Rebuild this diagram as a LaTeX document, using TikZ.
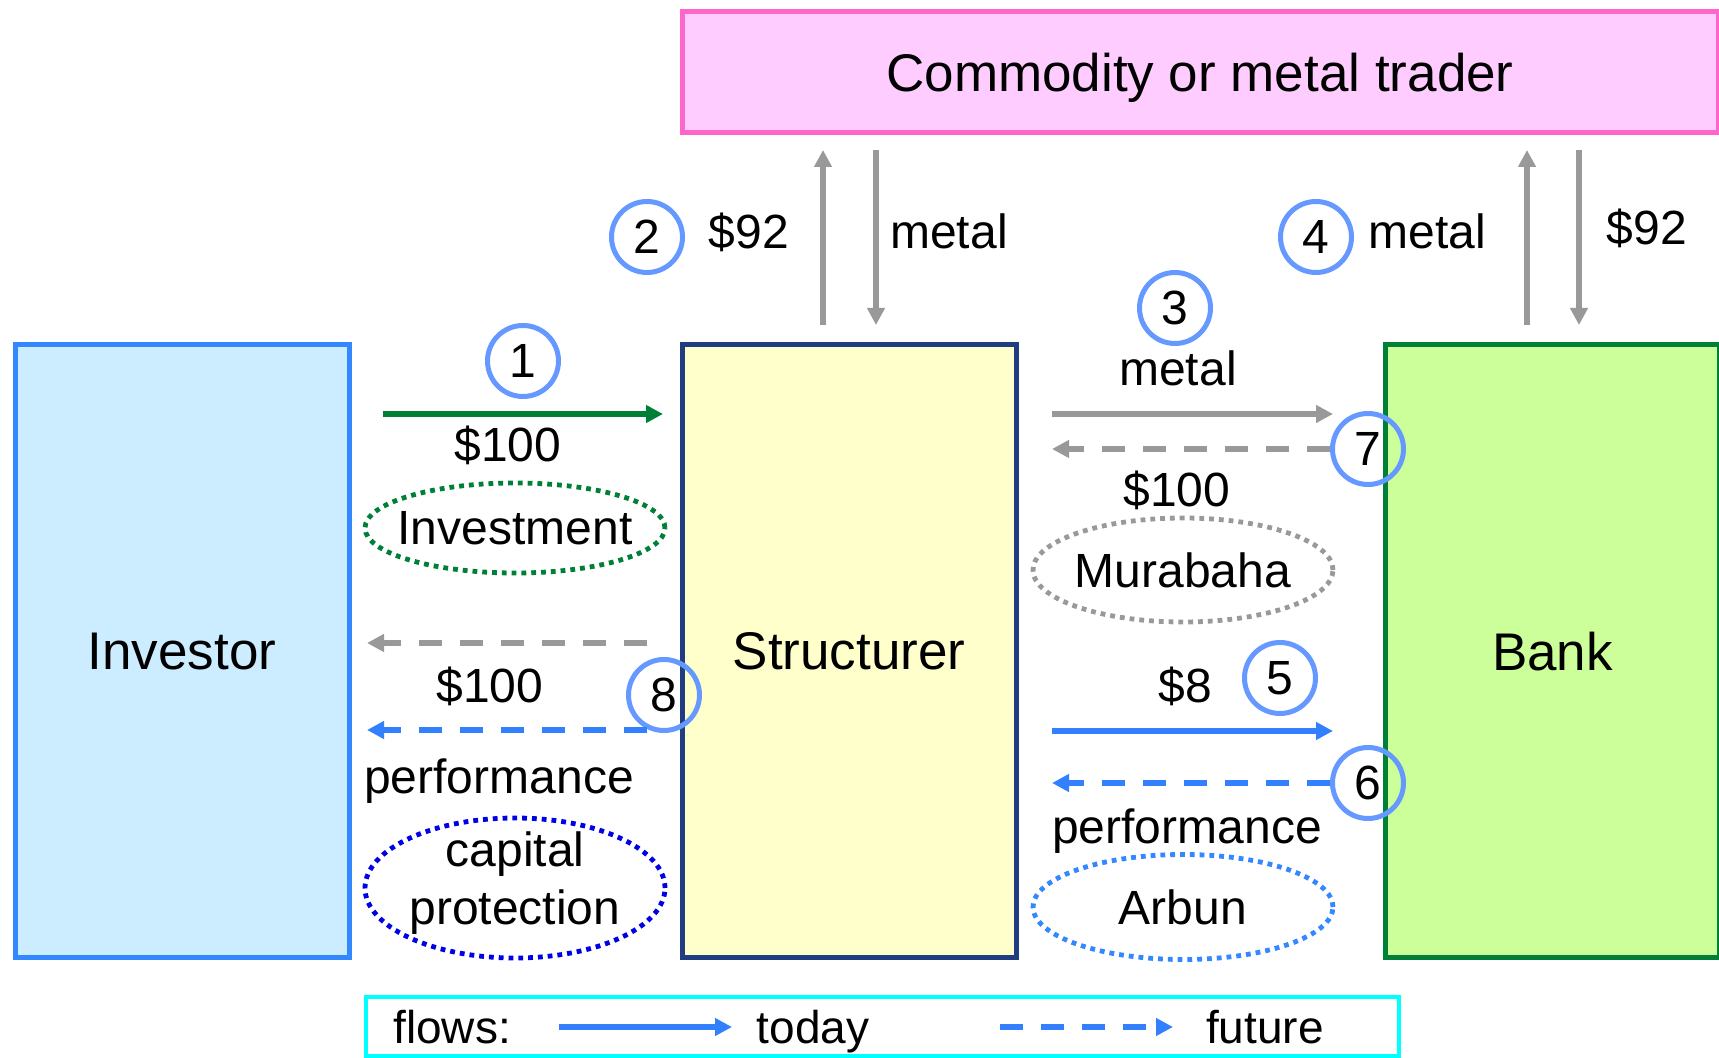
\documentclass[tikz,border=0pt]{standalone}
\usepackage{fontspec}
\setmainfont{Liberation Sans}
\usetikzlibrary{arrows.meta,shapes.geometric,positioning}

\definecolor{invfill}{RGB}{204,236,255}
\definecolor{invline}{RGB}{51,136,255}
\definecolor{strfill}{RGB}{255,255,204}
\definecolor{strline}{RGB}{31,61,128}
\definecolor{bankfill}{RGB}{204,255,153}
\definecolor{bankline}{RGB}{0,128,55}
\definecolor{tradefill}{RGB}{255,204,255}
\definecolor{tradeline}{RGB}{255,102,204}
\definecolor{stepline}{RGB}{102,153,255}
\definecolor{flowgray}{RGB}{153,153,153}
\definecolor{flowblue}{RGB}{51,128,255}
\definecolor{flowgreen}{RGB}{0,128,55}
\definecolor{capblue}{RGB}{0,0,230}
\definecolor{legline}{RGB}{0,255,255}

\begin{document}
\begin{tikzpicture}[x=0.5pt, y=-0.5pt,
                    party/.style={
                        draw,
                        line width=2.5pt,
                        minimum width=167pt,
                        minimum height=306.5pt,
                        text depth=0pt,
                        font=\fontsize{26.5}{30}\selectfont
                    },
                    stepno/.style={
                        circle,
                        draw=stepline,
                        line width=2.5pt,
                        minimum size=35.5pt,
                        inner sep=0pt,
                        font=\fontsize{24}{28}\selectfont
                    },
                    lbl/.style={
                        inner sep=0pt,
                        font=\fontsize{24}{28}\selectfont
                    },
                    dealtag/.style={
                        ellipse,
                        line width=2.4pt,
                        dash pattern=on 2.4pt off 2.5pt,
                        minimum width=150pt,
                        inner sep=0pt
                    },
                    flow/.style={
                        line width=3pt,
                        -{Triangle[length=8.5pt,width=8.5pt]}
                    },
                    later/.style={
                        flow,
                        dash pattern=on 11.5pt off 9pt
                    }
                ]

    \useasboundingbox (0,0) rectangle (1719,1058);

    % Parties
    \node[party, fill=invfill, draw=invline] (investor) at (182,651) {Investor};
    \node[party, fill=strfill, draw=strline] (structurer) at (849,651) {Structurer};
    \node[party, fill=bankfill, draw=bankline] (bank) at (1552.5,651) {Bank};
    \node[party, fill=tradefill, draw=tradeline,
        minimum width=518pt,
        minimum height=60.5pt
    ] (trader) at (1200,72) {Commodity or metal trader};

    % Free ends of the flows
    \coordinate (invA) at (383,414);
    \coordinate (invB) at (663,414);
    \coordinate (retA) at (647,643);
    \coordinate (retB) at (367,643);
    \coordinate (perA) at (647,730);
    \coordinate (perB) at (367,730);
    \coordinate (murA) at (1052,414);
    \coordinate (murB) at (1333,414);
    \coordinate (murC) at (1052,449);
    \coordinate (arbA) at (1052,731);
    \coordinate (arbB) at (1333,731);
    \coordinate (arbC) at (1052,783);
    \coordinate (buyA) at (823,325);
    \coordinate (buyB) at (823,150);
    \coordinate (getA) at (876,150);
    \coordinate (getB) at (876,325);
    \coordinate (sellA) at (1527,325);
    \coordinate (sellB) at (1527,150);
    \coordinate (payA) at (1579,150);
    \coordinate (payB) at (1579,325);

    % Trader legs
    \draw[flow, flowgray] (buyA) -- (buyB);
    \draw[flow, flowgray] (getA) -- (getB);
    \draw[flow, flowgray] (sellA) -- (sellB);
    \draw[flow, flowgray] (payA) -- (payB);
    \node[stepno] (s2) at (647,237) {2};
    \node[lbl, anchor=base] (p92a) at (749,249) {\$92};
    \node[lbl, anchor=base] (m2) at (949,249) {metal};
    \node[stepno] (s4) at (1316,237) {4};
    \node[lbl, anchor=base] (m4) at (1427,249) {metal};
    \node[lbl, anchor=base] (p92b) at (1647,245) {\$92};

    % Investor side
    \node[stepno] (s1) at (523,361) {1};
    \draw[flow, flowgreen] (invA) -- (invB);
    \node[lbl, anchor=base] (p100a) at (508,462) {\$100};
    \node[dealtag, draw=flowgreen, minimum height=45pt] (invest) at (515,528) {};
    \node[lbl] (investtxt) at (invest) {Investment};

    \draw[later, flowgray] (retA) -- (retB);
    \node[lbl, anchor=base] (p100b) at (490,703) {\$100};
    \node[stepno] (s8) at (664,695) {8};
    \draw[later, flowblue] (perA) -- (perB);
    \node[lbl, anchor=base] (perf1) at (499,793) {performance};
    \node[dealtag, draw=capblue, minimum height=70pt] (capprot) at (515,888) {};
    \node[lbl, align=center, font=\fontsize{24}{29}\selectfont] (captxt) at ([yshift=2.5pt]capprot.center) {capital\\protection};

    % Bank side
    \node[stepno] (s3) at (1175,308) {3};
    \node[lbl, anchor=base] (m3) at (1178,386) {metal};
    \draw[flow, flowgray] (murA) -- (murB);
    \node[stepno] (s7) at (1368,449) {7};
    \draw[later, flowgray] (s7.west) -- (murC);
    \node[lbl, anchor=base] (p100c) at (1177,507) {\$100};
    \node[dealtag, draw=flowgray, minimum height=52pt] (murabaha) at (1183,570) {};
    \node[lbl] (murtxt) at (murabaha) {Murabaha};

    \node[lbl, anchor=base] (p8) at (1185,703) {\$8};
    \node[stepno] (s5) at (1280,678) {5};
    \draw[flow, flowblue] (arbA) -- (arbB);
    \node[stepno] (s6) at (1368,783) {6};
    \draw[later, flowblue] (s6.west) -- (arbC);
    \node[lbl, anchor=base] (perf2) at (1187,843) {performance};
    \node[dealtag, draw=invline, minimum height=52.5pt] (arbun) at (1183,907) {};
    \node[lbl] (arbtxt) at (arbun) {Arbun};

    % Legend
    \node[draw=legline, line width=2pt,
        minimum width=516.5pt,
        minimum height=29.5pt
    ] (legend) at (882.5,1026) {};
    \node[lbl, anchor=base, font=\fontsize{23}{26}\selectfont] (flows) at (452,1043) {flows:};
    \node[lbl, anchor=base, font=\fontsize{23}{26}\selectfont] (today) at (813,1043) {today};
    \node[lbl, anchor=base, font=\fontsize{23}{26}\selectfont] (future) at (1265,1043) {future};
    \coordinate (todA) at (559,1027);
    \coordinate (todB) at (732,1027);
    \coordinate (futA) at (1000,1027);
    \coordinate (futB) at (1173,1027);
    \draw[flow, flowblue] (todA) -- (todB);
    \draw[later, flowblue] (futA) -- (futB);
\end{tikzpicture}
\end{document}
